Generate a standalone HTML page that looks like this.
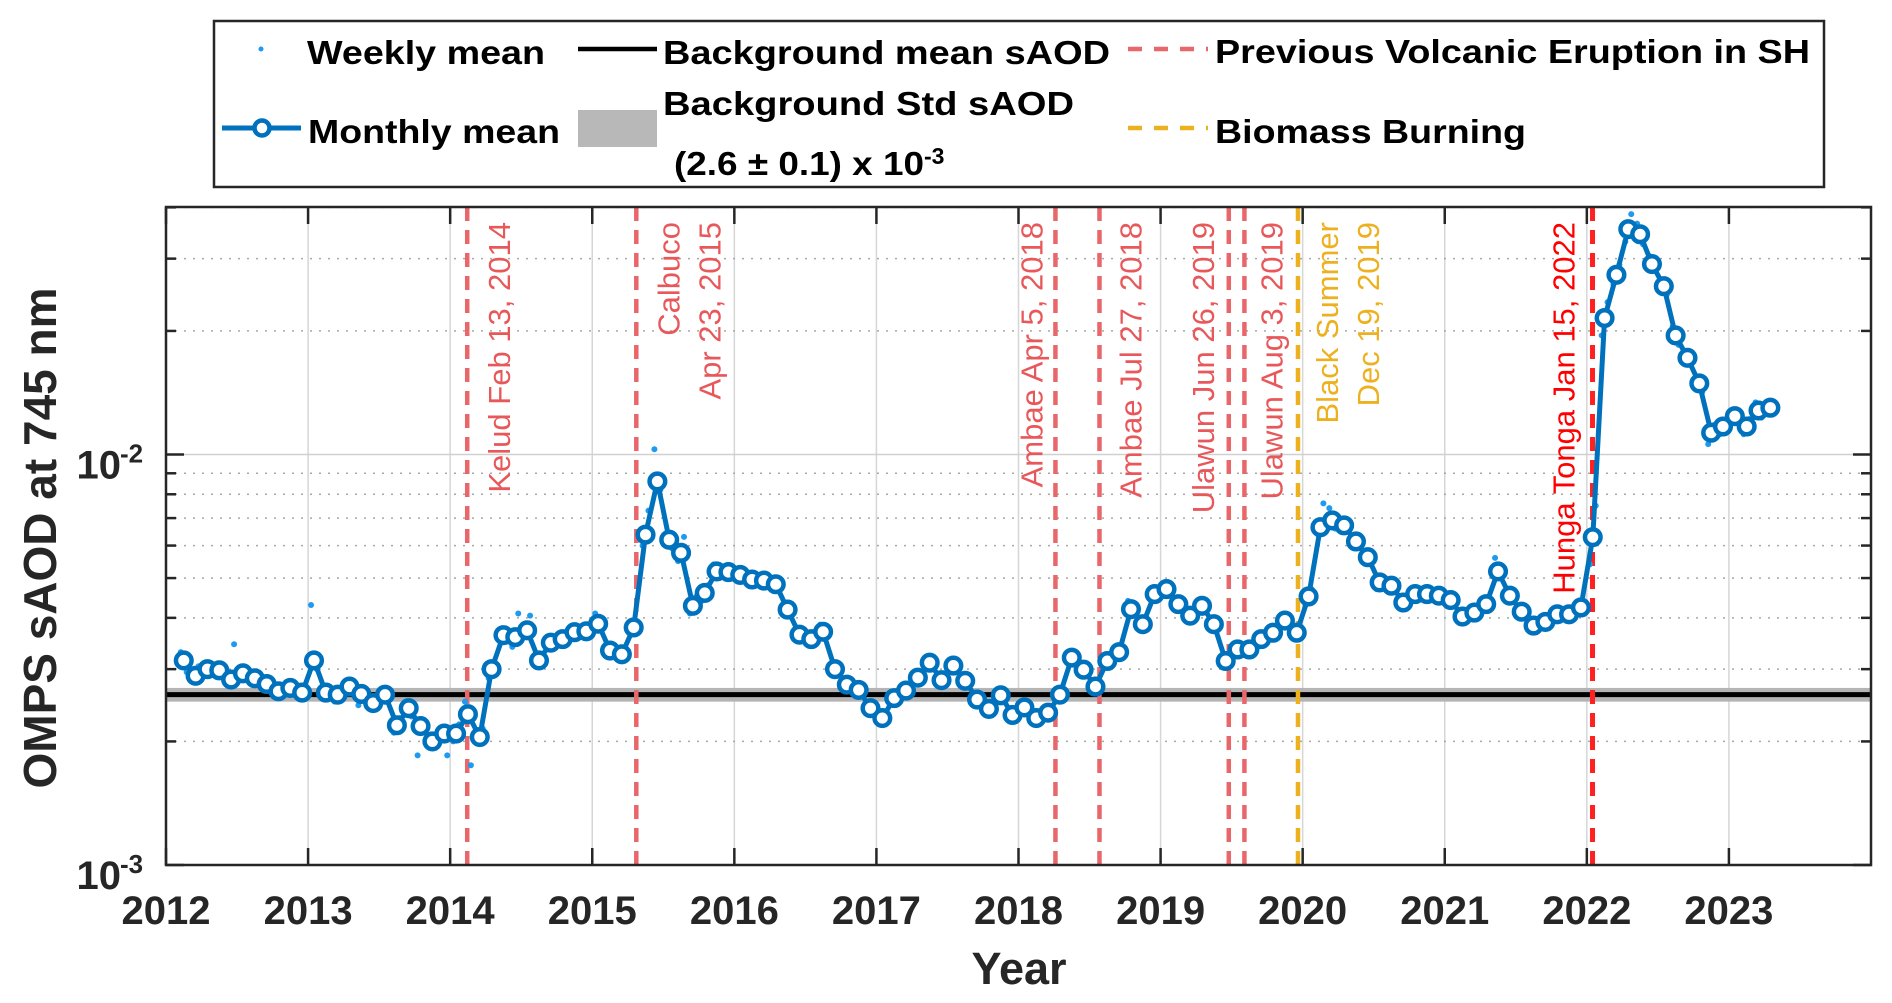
<!DOCTYPE html>
<html><head><meta charset="utf-8"><title>OMPS sAOD</title>
<style>
html,body{margin:0;padding:0;background:#fff;}
svg{display:block;font-family:"Liberation Sans",Arial,sans-serif;}
</style></head>
<body>
<svg id="chart" width="1892" height="1003" viewBox="0 0 1892 1003" xmlns="http://www.w3.org/2000/svg">
<rect x="0" y="0" width="1892" height="1003" fill="#fff"/>
<g id="grid"></g>
<g id="bg"></g>
<g id="events"></g>
<g id="weekly"></g>
<g id="monthly"></g>
<g id="axes"></g>
<text x="1019" y="984" font-size="45" font-weight="bold" text-anchor="middle" fill="#262626">Year</text>
<text transform="translate(56,538) rotate(-90)" x="0" y="0" font-size="46" font-weight="bold" text-anchor="middle" fill="#262626">OMPS sAOD at 745 nm</text>
<g>
  <rect x="214" y="21" width="1610" height="166" fill="#fff" stroke="#262626" stroke-width="2.5"/>
  <circle cx="261" cy="49" r="2.5" fill="#1E9BF0"/>
  <text x="307" y="64" font-size="33" font-weight="bold" textLength="238" lengthAdjust="spacingAndGlyphs">Weekly mean</text>
  <line x1="222" y1="128" x2="301" y2="128" stroke="#0072BD" stroke-width="5"/>
  <circle cx="262" cy="128" r="7.5" fill="#fff" stroke="#0072BD" stroke-width="4.5"/>
  <text x="308" y="143" font-size="33" font-weight="bold" textLength="252" lengthAdjust="spacingAndGlyphs">Monthly mean</text>
  <line x1="578" y1="49" x2="657" y2="49" stroke="#000" stroke-width="4.5"/>
  <text x="663" y="64" font-size="33" font-weight="bold" textLength="447" lengthAdjust="spacingAndGlyphs">Background mean sAOD</text>
  <rect x="578" y="110" width="79" height="37" fill="#b8b8b8"/>
  <text x="663" y="115" font-size="33" font-weight="bold" textLength="411" lengthAdjust="spacingAndGlyphs">Background Std sAOD</text>
  <text x="674" y="175" font-size="33" font-weight="bold" textLength="250" lengthAdjust="spacingAndGlyphs">(2.6 ± 0.1) x 10</text>
  <text x="924" y="164" font-size="23" font-weight="bold">-3</text>
  <line x1="1128" y1="49" x2="1208" y2="49" stroke="#E8676A" stroke-width="4.5" stroke-dasharray="14 12"/>
  <text x="1215" y="63" font-size="33" font-weight="bold" textLength="595" lengthAdjust="spacingAndGlyphs">Previous Volcanic Eruption in SH</text>
  <line x1="1128" y1="128" x2="1208" y2="128" stroke="#EDB120" stroke-width="4.5" stroke-dasharray="14 12"/>
  <text x="1215" y="143" font-size="33" font-weight="bold" textLength="311" lengthAdjust="spacingAndGlyphs">Biomass Burning</text>
</g>
</svg>
<script>
// ---- data ----
const monthIndex = [1,2,3,4,5,6,7,8,9,10,11,12,13,14,15,16,17,18,19,20,21,22,23,24,25,26,27,28,29,30,31,32,33,34,35,36,37,38,39,40,41,42,43,44,45,46,47,48,49,50,51,52,53,54,55,56,57,58,59,60,61,62,63,64,65,66,67,68,69,70,71,72,73,74,75,76,77,78,79,80,81,82,83,84,85,86,87,88,89,90,91,92,93,94,95,96,97,98,99,100,101,102,103,104,105,106,107,108,109,110,111,112,113,114,115,116,117,118,119,120,121,122,123,124,125,126,127,128,129,130,131,132,133,134,135];
// monthly mean sAOD in units of 1e-3
const monthlyMean = [3.15,2.89,3.0,2.98,2.83,2.93,2.85,2.76,2.65,2.7,2.63,
3.15,2.63,2.6,2.72,2.61,2.48,2.6,2.19,2.41,2.18,2.0,2.09,
2.09,2.33,2.05,3.0,3.63,3.59,3.73,3.15,3.48,3.55,3.69,3.71,
3.87,3.33,3.26,3.79,6.38,8.6,6.2,5.76,4.28,4.6,5.19,5.17,
5.09,4.96,4.93,4.83,4.19,3.64,3.55,3.7,3.0,2.75,2.67,2.41,
2.28,2.55,2.66,2.86,3.11,2.82,3.06,2.81,2.53,2.4,2.59,2.32,
2.42,2.28,2.35,2.6,3.2,2.99,2.72,3.14,3.3,4.2,3.86,4.57,
4.7,4.32,4.05,4.28,3.86,3.14,3.35,3.35,3.55,3.68,3.94,3.68,
4.51,6.65,6.91,6.72,6.14,5.62,4.88,4.79,4.36,4.57,4.57,4.53,
4.42,4.03,4.12,4.32,5.19,4.53,4.14,3.83,3.91,4.08,4.08,4.24,
6.29,21.5,27.4,35.4,34.4,29.1,25.7,19.5,17.2,14.9,11.3,11.7,
12.4,11.7,12.8,13.0];
// weekly samples (two per month, first half / second half), units of 1e-3
const weeklyA = [3.3,2.8,3.1,3.05,2.75,3.0,2.95,2.7,2.58,2.78,2.55,4.3,2.55,2.5,2.8,2.45,2.4,2.52,2.1,2.5,1.85,1.95,2.15,2.0,2.5,2.0,2.85,3.7,3.4,3.65,3.2,3.4,3.45,3.6,3.65,4.1,3.25,3.2,3.7,6.0,10.3,6.4,5.5,4.1,4.4,5.4,5.3,5.2,5.1,4.8,4.7,4.3,3.55,3.45,3.85,3.1,2.8,2.6,2.35,2.2,2.5,2.72,2.9,3.2,2.78,3.15,2.9,2.48,2.35,2.65,2.28,2.5,2.22,2.3,2.55,3.3,2.95,2.65,3.25,3.4,4.4,3.8,4.65,4.8,4.25,3.95,4.35,3.8,3.05,3.45,3.28,3.5,3.6,4.0,3.6,4.3,6.4,7.4,6.9,6.3,5.8,4.7,4.95,4.25,4.45,4.7,4.65,4.55,3.9,4.2,4.45,5.6,4.6,4.0,3.75,3.85,4.15,4.0,4.3,5.4,19.5,26.0,33.0,36.5,30.5,26.5,20.5,17.8,15.5,10.6,11.2,12.8,11.2,13.4,12.7];
const weeklyB = [2.95,3.05,2.9,2.92,3.45,2.85,2.78,2.85,2.72,2.62,2.7,3.0,2.72,2.68,2.62,2.7,2.55,2.68,2.28,2.3,2.25,2.05,1.85,2.2,1.75,2.15,3.1,3.5,4.1,4.05,3.05,3.55,3.65,3.8,3.85,3.75,3.4,3.35,3.9,7.3,8.2,5.9,6.3,4.5,4.8,5.0,5.0,4.95,4.85,5.05,4.95,4.05,3.75,3.65,3.6,2.9,2.7,2.72,2.48,2.35,2.6,2.6,2.8,3.05,2.88,2.98,2.75,2.58,2.45,2.55,2.38,2.38,2.32,2.4,2.65,3.1,3.05,2.8,3.05,3.2,4.05,3.95,4.45,4.6,4.4,4.15,4.2,3.95,3.22,3.28,3.42,3.62,3.75,3.88,3.76,4.7,7.6,6.6,6.5,6.0,5.45,5.0,4.65,4.5,4.7,4.45,4.4,4.3,4.15,4.02,4.2,5.0,4.4,4.25,3.92,4.0,4.0,4.18,4.15,7.5,23.5,29.0,38.5,32.5,28.0,24.5,18.5,16.5,14.2,11.8,12.1,12.0,12.2,12.3,13.3];
const yearTicks = [2012,2013,2014,2015,2016,2017,2018,2019,2020,2021,2022,2023];
const yearTickLabels = ["2012","2013","2014","2015","2016","2017","2018","2019","2020","2021","2022","2023"];
const decadeTicks = [1,10];
const decadeExponents = ["-3","-2"];
const minorTicks = [2,3,4,5,6,7,8,9,20,30,40];
const bgMean = 2.6;
const bgStd = 0.1;
const eventDates = [2014.12,2015.31,2018.26,2018.57,2019.48,2019.59,2019.967,2022.04];
const eventLine1 = ["Kelud Feb 13, 2014","Calbuco","Ambae Apr 5, 2018","Ambae Jul 27, 2018","Ulawun Jun 26, 2019","Ulawun Aug 3, 2019","Black Summer","Hunga Tonga Jan 15, 2022"];
const eventLine2 = ["","Apr 23, 2015","","","","","Dec 19, 2019",""];
const eventKind = ["volcano","volcano","volcano","volcano","volcano","volcano","biomass","tonga"];

// ---- layout (not data) ----
const L=166,R=1871,T=207,B=865;
const X0=2012,X1=2024;
const DEC=410.5;
const eventLabelDx = [43,43,-13,42,-15,38,40,-18];
const kindColor = {volcano:"#E8676A",biomass:"#EDB120",tonga:"#FF2020"};
const kindText = {volcano:"#E8585B",biomass:"#EDB120",tonga:"#FF0000"};

function xs(t){return L+(t-X0)/(X1-X0)*(R-L);}
function ys(v){return B-DEC*Math.log10(v);}
function monthT(m){return X0+(m+0.5)/12;}

const NS="http://www.w3.org/2000/svg";
function mk(tag,attrs,parent){const e=document.createElementNS(NS,tag);for(const k in attrs)e.setAttribute(k,attrs[k]);parent.appendChild(e);return e;}

const grid=document.getElementById('grid');
yearTicks.forEach(function(t){
  const e=mk('line',{x1:xs(t),x2:xs(t),y1:T,y2:B,stroke:'#d6d6d6','stroke-width':1.5},grid);
  
  
});
decadeTicks.forEach(function(v){
  const e=mk('line',{x1:L,x2:R,y1:ys(v),y2:ys(v),stroke:'#d0d0d0','stroke-width':1.5},grid);
  
  
});
minorTicks.forEach(function(v){
  const e=mk('line',{x1:L,x2:R,y1:ys(v),y2:ys(v),stroke:'#a8a8a8','stroke-width':1.5,'stroke-dasharray':'2 7'},grid);
  
  
});

const bg=document.getElementById('bg');
const band=mk('rect',{x:L,y:ys(bgMean+bgStd),width:R-L,height:ys(bgMean-bgStd)-ys(bgMean+bgStd),fill:'#b4b4b4'},bg);


const bgl=mk('line',{x1:L,x2:R,y1:ys(bgMean),y2:ys(bgMean),stroke:'#000','stroke-width':5},bg);



const ev=document.getElementById('events');
eventDates.forEach(function(d,i){
  const x=xs(d);
  const k=eventKind[i];
  const ln=mk('line',{x1:x,x2:x,y1:T,y2:B,stroke:kindColor[k],'stroke-width':k==='tonga'?5:4.5,'stroke-dasharray':'14 9'},ev);
  
  
  const lines=[eventLine1[i]];
  if(eventLine2[i])lines.push(eventLine2[i]);
  lines.forEach(function(s,j){
    const bx=x+eventLabelDx[i]+j*41;
    const tx=mk('text',{x:bx,y:222,transform:'rotate(-90 '+bx+' 222)','font-size':31,fill:kindText[k],'text-anchor':'end'},ev);
    tx.textContent=s;
    
    
  });
});

const wk=document.getElementById('weekly');
monthIndex.forEach(function(m,i){
  [[weeklyA[i],0.25],[weeklyB[i],0.75]].forEach(function(p){
    const c=mk('circle',{cx:xs(X0+(m+p[1])/12),cy:ys(p[0]),r:3,fill:'#1E9BF0'},wk);
    
    
  });
});

const mo=document.getElementById('monthly');
const pts=monthIndex.map(function(m,i){return xs(monthT(m)).toFixed(1)+','+ys(monthlyMean[i]).toFixed(1);});
const pl=mk('polyline',{points:pts.join(' '),fill:'none',stroke:'#0072BD','stroke-width':5,'stroke-linejoin':'round'},mo);


monthIndex.forEach(function(m,i){
  const c=mk('circle',{cx:xs(monthT(m)),cy:ys(monthlyMean[i]),r:7.8,fill:'#fff',stroke:'#0072BD','stroke-width':4.5},mo);
  
  
});

const ax=document.getElementById('axes');
const box=mk('rect',{x:L,y:T,width:R-L,height:B-T,fill:'none',stroke:'#262626','stroke-width':2.5},ax);


yearTicks.forEach(function(t,i){
  const x=xs(t);
  const a=mk('line',{x1:x,x2:x,y1:B,y2:B-17,stroke:'#262626','stroke-width':2.5},ax);
  
  
  const b=mk('line',{x1:x,x2:x,y1:T,y2:T+17,stroke:'#262626','stroke-width':2.5},ax);
  
  
  const tl=mk('text',{x:x,y:924,'font-size':40,'font-weight':'bold','text-anchor':'middle',fill:'#262626'},ax);
  tl.textContent=yearTickLabels[i];
  
  
});
decadeTicks.forEach(function(v,i){
  const y=ys(v);
  [[L,L+18],[R,R-18]].forEach(function(p){
    const t=mk('line',{x1:p[0],x2:p[1],y1:y,y2:y,stroke:'#262626','stroke-width':2.5},ax);
    
    
  });
  const base=mk('text',{x:121,y:y+24,'font-size':40,'font-weight':'bold','text-anchor':'end',fill:'#262626'},ax);
  base.textContent='10';
  
  
  const ex=mk('text',{x:120,y:y+8,'font-size':26,'font-weight':'bold',fill:'#262626'},ax);
  ex.textContent=decadeExponents[i];
  
  
});
minorTicks.forEach(function(v){
  const y=ys(v);
  [[L,L+10],[R,R-10]].forEach(function(p){
    const t=mk('line',{x1:p[0],x2:p[1],y1:y,y2:y,stroke:'#262626','stroke-width':2.5},ax);
    
    
  });
});
</script>
</body></html>
